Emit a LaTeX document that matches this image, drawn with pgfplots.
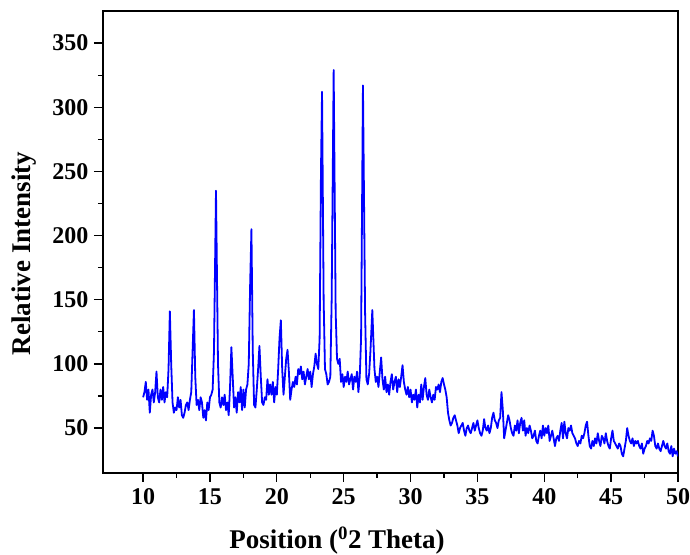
\documentclass[border=0pt]{standalone}
\usepackage{fontspec}
\setmainfont{Liberation Serif}
\usepackage{pgfplots}
\pgfplotsset{compat=1.18}
\usepackage{pgfplotstable}

\pgfplotstableread{
x y
10.0 74
10.1 78
10.2 86
10.3 72
10.4 80
10.5 62
10.6 76
10.7 80
10.8 70
10.9 78
11.0 94
11.1 74
11.2 70
11.3 80
11.4 72
11.5 82
11.6 70
11.7 78
11.8 74
11.9 96
12.0 141
12.1 100
12.2 70
12.3 62
12.4 66
12.5 64
12.6 74
12.7 66
12.8 72
12.9 60
13.0 58
13.1 62
13.2 68
13.3 70
13.4 64
13.5 72
13.6 78
13.7 110
13.8 142
13.9 90
14.0 68
14.1 72
14.2 64
14.3 74
14.4 70
14.5 58
14.6 64
14.7 56
14.8 70
14.9 64
15.0 74
15.1 76
15.2 80
15.3 110
15.45 235
15.6 100
15.7 70
15.8 66
15.9 74
16.0 68
16.1 76
16.2 64
16.3 70
16.4 60
16.5 82
16.6 113
16.7 90
16.8 66
16.9 74
17.0 62
17.1 78
17.2 70
17.3 82
17.4 64
17.5 80
17.6 66
17.7 80
17.8 84
17.9 100
18.0 160
18.1 205
18.2 110
18.3 68
18.4 66
18.5 80
18.6 96
18.7 114
18.8 90
18.9 70
19.0 68
19.1 74
19.2 72
19.3 88
19.4 76
19.5 84
19.6 76
19.7 86
19.8 70
19.9 82
20.0 76
20.1 96
20.2 120
20.3 134
20.4 96
20.5 76
20.6 90
20.7 104
20.8 111
20.9 94
21.0 72
21.1 80
21.2 86
21.3 82
21.4 90
21.5 84
21.6 96
21.7 92
21.8 98
21.9 88
22.0 94
22.1 84
22.2 90
22.3 96
22.4 88
22.5 94
22.6 82
22.7 92
22.8 98
22.9 108
23.0 100
23.1 96
23.2 120
23.3 250
23.38 312
23.5 150
23.6 96
23.7 92
23.8 84
23.9 86
24.0 90
24.1 150
24.25 329
24.4 140
24.5 104
24.6 100
24.7 104
24.8 86
24.9 92
25.0 82
25.1 90
25.2 86
25.3 94
25.4 84
25.5 88
25.6 92
25.7 80
25.8 90
25.9 86
26.0 94
26.1 78
26.2 90
26.3 120
26.44 317
26.6 140
26.7 88
26.8 84
26.9 92
27.0 110
27.14 142
27.3 96
27.4 86
27.5 90
27.6 82
27.7 94
27.8 105
27.9 88
28.0 80
28.1 90
28.2 78
28.3 84
28.4 76
28.5 86
28.6 92
28.7 80
28.8 86
28.9 90
29.0 78
29.1 88
29.2 82
29.3 90
29.4 99
29.5 86
29.6 80
29.7 76
29.8 82
29.9 74
30.0 80
30.1 70
30.2 76
30.3 72
30.4 80
30.5 66
30.6 76
30.7 70
30.8 84
30.9 72
31.0 82
31.1 89
31.2 76
31.3 72
31.4 80
31.5 74
31.6 70
31.7 76
31.8 72
31.9 82
32.0 80
32.1 84
32.2 78
32.3 86
32.4 89
32.5 84
32.6 80
32.7 74
32.8 62
32.9 56
33.0 52
33.1 54
33.2 58
33.3 60
33.4 56
33.5 52
33.6 46
33.7 50
33.8 52
33.9 54
34.0 48
34.1 44
34.2 50
34.3 52
34.4 48
34.5 46
34.6 50
34.7 54
34.8 48
34.9 52
35.0 56
35.1 50
35.2 46
35.3 44
35.4 48
35.5 57
35.6 50
35.7 48
35.8 52
35.9 46
36.0 50
36.1 58
36.2 62
36.3 56
36.4 54
36.5 50
36.6 56
36.7 58
36.8 78
36.9 64
37.0 42
37.1 48
37.2 54
37.3 60
37.4 56
37.5 50
37.6 46
37.7 44
37.8 52
37.9 48
38.0 56
38.1 46
38.2 54
38.3 58
38.4 48
38.5 56
38.6 44
38.7 50
38.8 46
38.9 52
39.0 48
39.1 42
39.2 44
39.3 48
39.4 40
39.5 38
39.6 44
39.7 48
39.8 42
39.9 52
40.0 44
40.1 50
40.2 46
40.3 52
40.4 40
40.5 44
40.6 48
40.7 42
40.8 36
40.9 42
41.0 44
41.1 40
41.2 48
41.3 54
41.4 42
41.5 55
41.6 46
41.7 42
41.8 50
41.9 48
42.0 52
42.1 46
42.2 44
42.3 42
42.4 38
42.5 36
42.6 40
42.7 38
42.8 44
42.9 42
43.0 46
43.1 52
43.2 55
43.3 44
43.4 36
43.5 34
43.6 40
43.7 36
43.8 42
43.9 38
44.0 46
44.1 40
44.2 36
44.3 44
44.4 42
44.5 38
44.6 46
44.7 40
44.8 36
44.9 34
45.0 42
45.1 48
45.2 40
45.3 38
45.4 36
45.5 34
45.6 38
45.7 36
45.8 30
45.9 28
46.0 34
46.1 40
46.2 50
46.3 44
46.4 40
46.5 38
46.6 42
46.7 36
46.8 40
46.9 38
47.0 40
47.1 36
47.2 34
47.3 38
47.4 30
47.5 34
47.6 36
47.7 40
47.8 38
47.9 42
48.0 40
48.1 48
48.2 44
48.3 36
48.4 34
48.5 38
48.6 34
48.7 32
48.8 36
48.9 40
49.0 36
49.1 34
49.2 38
49.3 32
49.4 30
49.5 36
49.6 28
49.7 34
49.8 30
49.9 32
50.0 28
}\xrd

\begin{document}
\begin{tikzpicture}
\begin{axis}[
    width=575pt, height=462pt,
    scale only axis,
    xmin=7, xmax=50,
    ymin=15, ymax=375,
    xtick={10,15,...,50},
    ytick={50,100,...,350},
    minor x tick num=1,
    minor y tick num=1,
    tick pos=left,
    tick align=outside,
    major tick length=9pt,
    minor tick length=5pt,
    every tick/.style={black, line width=1.3pt},
    axis line style={black, line width=1.6pt},
    /pgf/number format/assume math mode=true,
    ticklabel style={font=\fontsize{24}{26}\selectfont\bfseries},
    xticklabel style={yshift=-3pt},
    yticklabel style={xshift=-2pt},
    label style={font=\fontsize{27}{29}\selectfont\bfseries},
    xlabel={Position (\textsuperscript{0}2 Theta)},
    ylabel={Relative Intensity},
    xlabel style={at={(axis description cs:0.407,-0.1645)}, anchor=base},
    ylabel style={at={(axis description cs:-0.138,0.475)}, anchor=center},
]
\addplot[color={rgb,255:red,0;green,0;blue,255}, line width=1.8pt, no marks, line join=round] table[x=x, y=y] {\xrd};
\coordinate (bl) at (rel axis cs:0,0);
\coordinate (tr) at (rel axis cs:1,1);
\end{axis}
\pgfresetboundingbox
\path[use as bounding box] ([shift={(-103pt,-82pt)}]bl) rectangle ([shift={(12pt,11pt)}]tr);
\end{tikzpicture}
\end{document}
